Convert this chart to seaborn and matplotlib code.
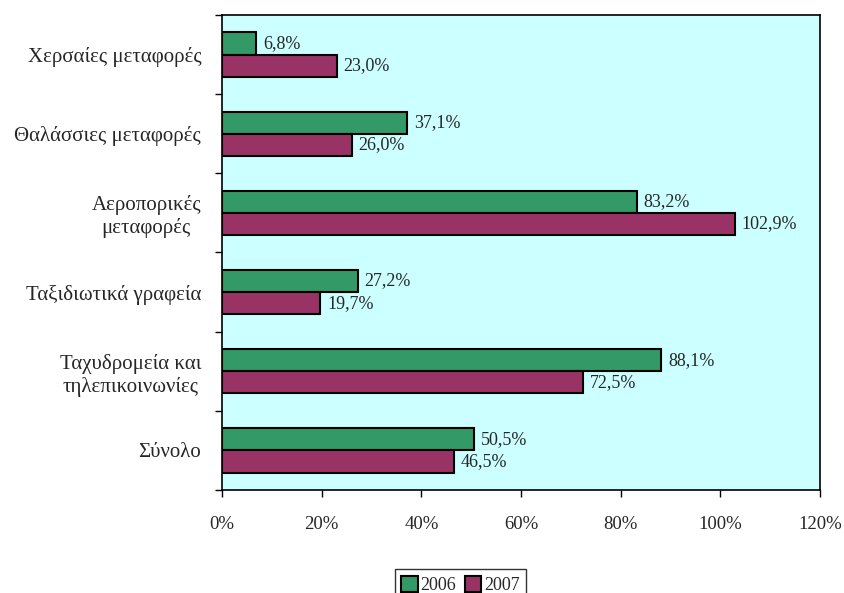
import numpy as np
import pandas as pd
import matplotlib
matplotlib.use("Agg")
import matplotlib.pyplot as plt
import seaborn as sns
from matplotlib.ticker import FixedLocator, FuncFormatter

# data
categories = ["Χερσαίες μεταφορές", "Θαλάσσιες μεταφορές", "Αεροπορικές\nμεταφορές",
              "Ταξιδιωτικά γραφεία", "Ταχυδρομεία και\nτηλεπικοινωνίες", "Σύνολο"]
years = ["2006", "2007"]
values_2006 = [6.8, 37.1, 83.2, 27.2, 88.1, 50.5]
values_2007 = [23.0, 26.0, 102.9, 19.7, 72.5, 46.5]
x_ticks = [0, 20, 40, 60, 80, 100, 120]

df = pd.DataFrame({
    "category": categories * 2,
    "year": [years[0]] * len(categories) + [years[1]] * len(categories),
    "value": values_2006 + values_2007,
})

sns.set_theme(style="white")
plt.rcParams["font.family"] = ["Liberation Serif", "DejaVu Serif"]

fig = plt.figure(figsize=(8.45, 5.93), dpi=100)
ax = fig.add_axes([0.2627, 0.1737, 0.7077, 0.801])

palette = {"2006": "#339966", "2007": "#993366"}
sns.barplot(data=df, y="category", x="value", hue="year", hue_order=years,
            order=categories, palette=palette, orient="h", width=0.56,
            edgecolor="black", linewidth=1.5, saturation=1, ax=ax, legend=True)

ax.set_facecolor("#CCFFFF")
ax.set_xlim(0, 120)
ax.set_ylim(len(categories) - 0.5, -0.5)
ax.set_xlabel("")
ax.set_ylabel("")

ax.xaxis.set_major_locator(FixedLocator(x_ticks))
ax.xaxis.set_major_formatter(FuncFormatter(lambda v, p: f"{int(v)}%"))
ax.tick_params(axis="x", which="major", direction="out", length=5, width=1,
               color="black", labelsize=13.5, pad=14, bottom=True)
ax.tick_params(axis="y", which="major", length=0, labelsize=15, pad=15)
ax.yaxis.set_minor_locator(FixedLocator(np.arange(-0.5, len(categories), 1.0)))
ax.tick_params(axis="y", which="minor", direction="out", length=5, width=1,
               color="black", left=True)
for lbl in ax.get_yticklabels():
    lbl.set_horizontalalignment("right")
    lbl.set_multialignment("center")

for spine in ax.spines.values():
    spine.set_visible(True)
    spine.set_color("black")
    spine.set_linewidth(1.2)

for cont, vals in zip(ax.containers, [values_2006, values_2007]):
    labels = [f"{v:.1f}%".replace(".", ",") for v in vals]
    ax.bar_label(cont, labels=labels, padding=5, fontsize=13)

handles, lbls = ax.get_legend_handles_labels()
ax.get_legend().remove()
leg = fig.legend(handles, lbls, loc="lower center", bbox_to_anchor=(0.545, -0.012),
                 ncol=2, frameon=True, fancybox=False, fontsize=13,
                 handlelength=0.9, handleheight=1.0, handletextpad=0.15,
                 columnspacing=0.5, borderpad=0.35, borderaxespad=0)
leg.get_frame().set_edgecolor("black")
leg.get_frame().set_linewidth(1)

fig.savefig("out.png", dpi=100, facecolor="white")
